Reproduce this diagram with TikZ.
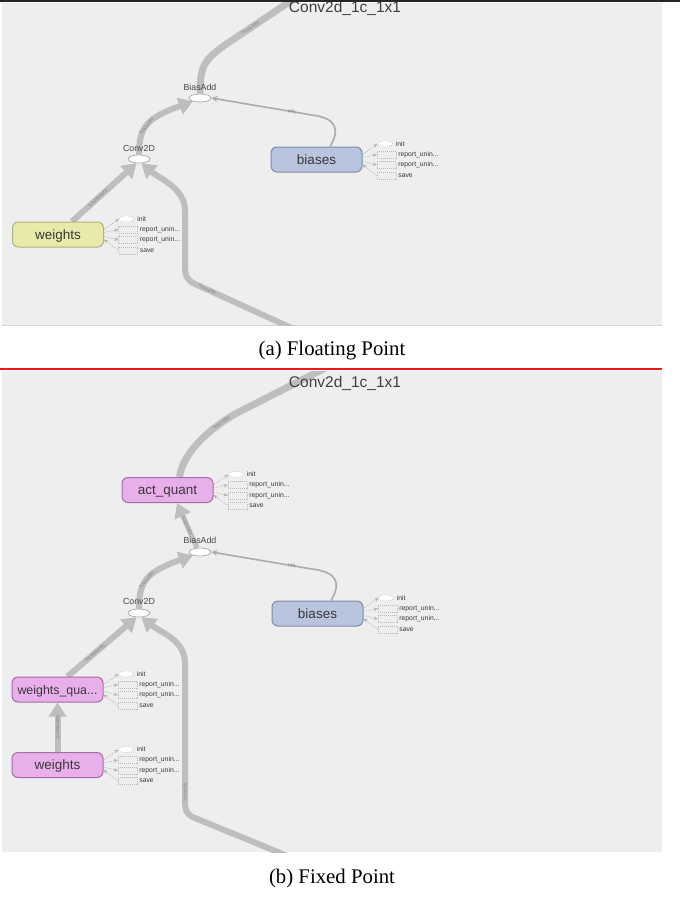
\documentclass[tikz,border=0pt]{standalone}
\usepackage{fontspec}
\setmainfont{Liberation Serif}
\newfontfamily\tbfont{Liberation Sans}
\usetikzlibrary{arrows.meta,shapes.geometric}
\definecolor{panelgray}{HTML}{EEEEEE}
\definecolor{paneledge}{HTML}{D6D6D6}
\definecolor{edgegray}{HTML}{BEBEBE}
\definecolor{labgray}{HTML}{767676}
\definecolor{wyellow}{HTML}{E8EAA9}
\definecolor{wyellowb}{HTML}{B0B27C}
\definecolor{bblue}{HTML}{B9C4DF}
\definecolor{bblueb}{HTML}{7D8BAD}
\definecolor{qpink}{HTML}{E9AFEA}
\definecolor{qpinkb}{HTML}{A66CA8}
\definecolor{redline}{HTML}{E8191C}
\pgfdeclarelayer{bg}
\pgfdeclarelayer{edges}
\pgfsetlayers{bg,edges,main}
\tikzset{
  opbox/.style={rectangle, rounded corners=6pt, minimum width=91pt, minimum height=25pt,
    line width=1pt, font=\tbfont\fontsize{13.5}{13.5}\selectfont, text=black!78, inner sep=0pt,
    text height=9.5pt, text depth=0pt},
  opell/.style={ellipse, draw=gray!75, fill=white, minimum width=22pt, minimum height=8pt,
    inner sep=0pt, line width=0.6pt},
  oplabel/.style={font=\tbfont\fontsize{8.8}{9}\selectfont, text=black!72, inner sep=0pt},
  optitle/.style={font=\tbfont\fontsize{15.5}{16}\selectfont, text=black!75, inner sep=0pt},
  auxell/.style={ellipse, draw=gray!55, dashed, dash pattern=on 1pt off 1pt, fill=white,
    minimum width=15pt, minimum height=6pt, inner sep=0pt, line width=0.4pt},
  auxbox/.style={rectangle, draw=gray!55, dash pattern=on 1pt off 1pt, fill=panelgray,
    minimum width=19pt, minimum height=7pt, inner sep=0pt, line width=0.4pt},
  auxtxt/.style={font=\tbfont\fontsize{6.8}{7}\selectfont, text=black!78, inner sep=0pt},
  auxline/.style={draw=gray!60, dash pattern=on 1.5pt off 1pt, line width=0.5pt},
  auxfwd/.style={auxline, -{Stealth[length=4pt,width=3.5pt]}},
  auxback/.style={auxline, {Stealth[length=4pt,width=3.5pt]}-},
  thickline/.style={draw=edgegray, line width=6pt},
  thickedge/.style={thickline, -{Triangle[length=14pt,width=17pt]}},
  thinedge/.style={draw=edgegray!90!black, line width=1.6pt, -{Stealth[length=6pt,width=6pt]}},
  elabel/.style={sloped, font=\tbfont\fontsize{3.8}{4}\selectfont, text=labgray, inner sep=0pt},
  caption/.style={font=\fontsize{20.8}{22}\selectfont, inner sep=0pt}
}
% auxiliary nodes beside an op box: #1 prefix, #2 parent, #3 right edge x, #4 centre y
\newcommand{\auxset}[4]{%
  \node[auxell] (#1i) at ({#3+23},{#4-15.5}) {};
  \node[auxbox] (#1a) at ({#3+24.5},{#4-5}) {};
  \node[auxbox] (#1b) at ({#3+24.5},{#4+5.5}) {};
  \node[auxbox] (#1s) at ({#3+24.5},{#4+16}) {};
  \node[auxtxt,anchor=west] (#1it) at ([xshift=3pt]#1i.east) {init};
  \node[auxtxt,anchor=west] (#1at) at ([xshift=2pt]#1a.east) {report\_unin...};
  \node[auxtxt,anchor=west] (#1bt) at ([xshift=2pt]#1b.east) {report\_unin...};
  \node[auxtxt,anchor=west] (#1st) at ([xshift=2pt]#1s.east) {save};
  \draw[auxfwd] ([yshift=5pt]#2.east) -- (#1i.west);
  \draw[auxfwd] ([yshift=2pt]#2.east) -- (#1a.west);
  \draw[auxfwd] ([yshift=-2pt]#2.east) -- (#1b.west);
  \draw[auxback] ([yshift=-5pt]#2.east) -- (#1s.west);
}
\begin{document}
\begin{tikzpicture}[x=1pt,y=-1pt]
\useasboundingbox (0,0) rectangle (680,897);
\begin{pgfonlayer}{bg}
\fill[white] (0,0) rectangle (680,897);
\fill[panelgray] (2,2.5) rectangle (662,325);
\draw[paneledge, line width=0.8pt] (2,325) -- (662,325);
\fill[panelgray] (2,371) rectangle (662,852);
\end{pgfonlayer}
\draw[black!85, line width=1.5pt] (0,0.75) -- (680,0.75);
\draw[redline, line width=2.2pt] (0,369) -- (662,369);

% ---------------- (a) Floating Point ----------------
\begin{scope}
\clip (2,2.5) rectangle (662,325);
\node[optitle] (outA) at (345,8) {Conv2d\_1c\_1x1};
\node[opell] (baA) at (200,98) {};
\node[oplabel] (baAl) at (200,87.5) {BiasAdd};
\node[opell] (cvA) at (139,159) {};
\node[oplabel] (cvAl) at (139,148) {Conv2D};
\node[opbox, fill=bblue, draw=bblueb] (bA) at (316.5,159.5) {biases};
\node[opbox, fill=wyellow, draw=wyellowb] (wA) at (58,234.5) {weights};
\coordinate (outEA) at (310,-12);
\coordinate (inA) at (296,330);
\auxset{wa}{wA}{103.5}{234.5}
\auxset{ba}{bA}{362}{159.5}
\end{scope}
\begin{pgfonlayer}{edges}
\begin{scope}
\clip (2,2.5) rectangle (662,325);
\draw[thickline, line width=7pt] (baA.north) .. controls +(0,-30) and (206,59) .. (225,45)
  -- node[elabel,pos=0.3]{?x1x1x1001} (outEA);
\draw[thickedge] (cvA.north) .. controls +(0,-28) and (147,118) ..
  node[elabel,pos=0.45]{?x1x1x1001} (baA.205);
\draw[thickedge] ([xshift=14pt]wA.north) -- node[elabel,pos=0.4]{1x1x256x1001} (cvA.240);
\draw[thickedge] (inA) -- node[elabel,pos=0.88]{?x1x1x256} (195,284)
  .. controls (187,280) and (185,276) .. (185,266) -- (185,211)
  .. controls (185,188) and (160,179) .. (cvA.-60);
\draw[thinedge] ([xshift=13.5pt]bA.north) .. controls (341,128) and (335,118) .. (312,115)
  -- node[elabel,pos=0.2]{1001} (baA.east);
\end{scope}
\end{pgfonlayer}
\node[caption] (capA) at (332,351) {(a) Floating Point};

% ---------------- (b) Fixed Point ----------------
\begin{scope}
\clip (2,371) rectangle (662,852);
\node[optitle] (outB) at (345,383.5) {Conv2d\_1c\_1x1};
\node[opbox, fill=qpink, draw=qpinkb] (aqB) at (167.5,490) {act\_quant};
\node[opell] (baB) at (200,552) {};
\node[oplabel] (baBl) at (200,540.5) {BiasAdd};
\node[opell] (cvB) at (139,613) {};
\node[oplabel] (cvBl) at (139,601.5) {Conv2D};
\node[opbox, fill=bblue, draw=bblueb] (bB) at (317.5,613.5) {biases};
\node[opbox, fill=qpink, draw=qpinkb, font=\tbfont\fontsize{12.4}{13}\selectfont] (wqB) at (57.5,689.5) {weights\_qua...};
\node[opbox, fill=qpink, draw=qpinkb] (wB) at (57.5,765) {weights};
\coordinate (outEB) at (345,358);
\coordinate (inB) at (290,857);
\auxset{aq}{aqB}{213}{490}
\auxset{bb}{bB}{363}{613.5}
\auxset{wq}{wqB}{103}{689.5}
\auxset{wb}{wB}{103}{765}
\end{scope}
\begin{pgfonlayer}{edges}
\begin{scope}
\clip (2,371) rectangle (662,852);
\draw[thickline, line width=7pt] ([xshift=12pt]aqB.north) .. controls (183,455) and (203,433) ..
  node[elabel,pos=0.85]{?x1x1x1001} (235,414) -- (outEB);
\draw[thickedge, line width=5pt] ([xshift=-3pt]baB.north) --
  node[elabel]{?x1x1x1001} ([xshift=9.5pt]aqB.south);
\draw[thickedge] (cvB.north) .. controls +(0,-28) and (147,572) ..
  node[elabel,pos=0.45]{?x1x1x1001} (baB.205);
\draw[thickedge] ([xshift=10pt]wqB.north) -- node[elabel,pos=0.4]{1x1x256x1001} (cvB.240);
\draw[thickedge] (wB.north) -- node[elabel]{1x1x256x1001} (wqB.south);
\draw[thickedge] (inB) -- (195,818)
  .. controls (187,815) and (185,811) .. (185,801) -- node[elabel,pos=0.06]{?x1x1x256} (185,663)
  .. controls (185,640) and (160,632) .. (cvB.-60);
\draw[thinedge] ([xshift=13.5pt]bB.north) .. controls (342,582) and (336,572) .. (312,569)
  -- node[elabel,pos=0.2]{1001} (baB.east);
\end{scope}
\end{pgfonlayer}
\node[caption] (capB) at (332,878) {(b) Fixed Point};
\end{tikzpicture}
\end{document}
